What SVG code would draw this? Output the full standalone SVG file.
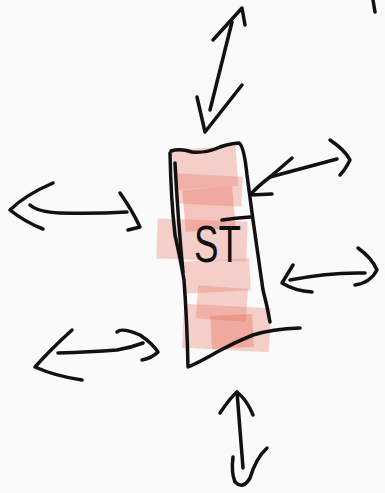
<svg xmlns="http://www.w3.org/2000/svg" width="385" height="493" viewBox="0 0 385 493">
<style>
.ink{fill:none;stroke:#111;stroke-width:3.5;stroke-linecap:round;stroke-linejoin:round}
.wash{fill:#ea7563;fill-opacity:0.32}
.wash2{fill:#e8604d;fill-opacity:0.35}
.lbl{font-family:"Liberation Sans","DejaVu Sans",sans-serif;font-size:52px;fill:#111;font-weight:normal}
</style>
<rect width="385" height="493" fill="#fafafa"/>
<g id="st">
<rect class="wash" x="173" y="148" width="64" height="40" transform="rotate(-4 205 168)"/>
<rect class="wash" x="176" y="175" width="66" height="30" transform="rotate(3 209 190)"/>
<rect class="wash2" x="184" y="188" width="50" height="42" transform="rotate(-5 209 209)"/>
<rect class="wash" x="157" y="220" width="90" height="40" transform="rotate(2 202 240)"/>
<rect class="wash" x="183" y="260" width="67" height="32" transform="rotate(-3 216 276)"/>
<rect class="wash" x="197" y="287" width="50" height="33" transform="rotate(4 222 303)"/>
<rect class="wash" x="183" y="306" width="87" height="44" transform="rotate(3 226 328)"/>
<rect class="wash2" x="211" y="315" width="42" height="33" transform="rotate(-3 232 331)"/>
<path class="ink" d="M171 151 Q180 148 192 152 Q205 153 215 149 Q226 144 239 143 Q244 146 247 175 Q251 205 253 220 Q260 270 263 290 Q267 305 270 322"/>
<path class="ink" d="M170 153 Q171 200 175 235 Q181 262 184 280 Q187 320 188 367 Q200 362 217 352 Q235 342 253 335 Q272 329 300 328"/>
<path class="ink" d="M175 163 Q178 220 183 272"/>
<path class="ink" d="M222 220 Q236 218 250 217"/>
<text class="lbl" x="194" y="262" textLength="47" lengthAdjust="spacingAndGlyphs">ST</text>
</g>
<g id="connectors">
<path class="ink" d="M232 22 L210 110"/>
<path class="ink" d="M213 40 L242 8 L245 25"/>
<path class="ink" d="M197 97 L205 132 L242 85"/>
<path class="ink" d="M337 159 L270 177"/>
<path class="ink" d="M292 158 L270 177 Q258 186 250 195 L272 194"/>
<path class="ink" d="M330 140 Q345 150 350 160 Q345 170 340 175"/>
<path class="ink" d="M365 273 Q330 272 290 280"/>
<path class="ink" d="M293 265 L282 283 Q295 291 312 292"/>
<path class="ink" d="M358 248 Q372 258 377 270 Q370 283 355 285"/>
<path class="ink" d="M30 205 Q38 212 60 213 Q95 214 127 212"/>
<path class="ink" d="M53 183 Q25 195 10 210 Q25 222 43 229"/>
<path class="ink" d="M120 193 Q132 210 140 227 L128 230"/>
<path class="ink" d="M58 353 Q90 352 117 350 Q130 348 143 343"/>
<path class="ink" d="M72 330 Q50 350 35 367 Q55 376 82 380"/>
<path class="ink" d="M117 332 Q122 327 140 335 Q152 343 158 352 Q152 358 142 360"/>
<path class="ink" d="M237 392 L243 468"/>
<path class="ink" d="M220 413 Q230 398 237 392 Q247 400 253 415"/>
<path class="ink" d="M233 457 Q231 472 235 482 Q243 490 250 478 Q256 458 267 448"/>
<path class="ink" d="M373 0 L375 12"/>
</g>
</svg>
